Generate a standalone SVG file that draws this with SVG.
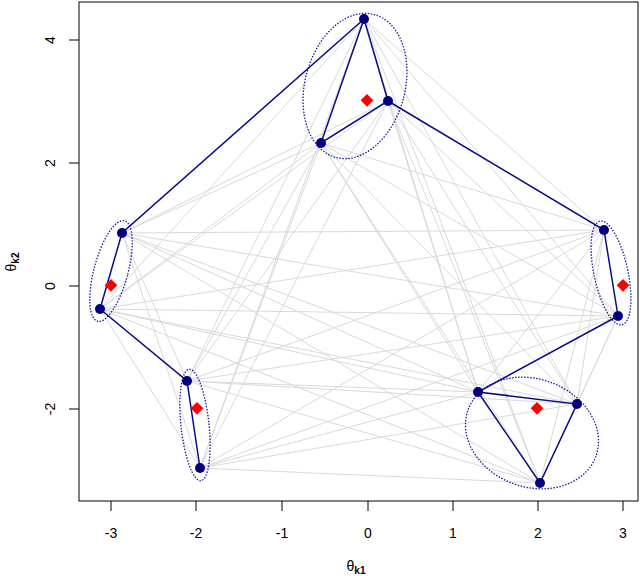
<svg xmlns="http://www.w3.org/2000/svg" width="640" height="576" viewBox="0 0 640 576">
<style>
.g{stroke:#d9d9d9;stroke-width:1;fill:none}
.b{stroke:#0a0a8c;stroke-width:1.5;fill:none}
.e{stroke:#1a1aa0;stroke-width:1.3;fill:none;stroke-dasharray:1.5,1.5}
.p{fill:#00007f}
.r{fill:#ff0000}
.ax{stroke:#000;stroke-width:1;fill:none}
text{font-family:"Liberation Sans",Arial,sans-serif;font-size:14px;fill:#000}
</style>
<rect width="640" height="576" fill="#fff"/>
<g id="gray-edges" class="g">
<path d="M364,19L122,233M364,19L100,309M364,19L187,381M364,19L200,468M364,19L478,392M364,19L577,404M364,19L540,483M364,19L604,230M364,19L618,316
M388,101L122,233M388,101L100,309M388,101L187,381M388,101L200,468M388,101L478,392M388,101L577,404M388,101L540,483M388,101L618,316
M321,143L122,233M321,143L100,309M321,143L187,381M321,143L200,468M321,143L478,392M321,143L577,404M321,143L540,483M321,143L604,230M321,143L618,316
M122,233L187,381M122,233L200,468M122,233L478,392M122,233L577,404M122,233L540,483M122,233L604,230M122,233L618,316
M100,309L200,468M100,309L478,392M100,309L577,404M100,309L540,483M100,309L604,230M100,309L618,316
M187,381L478,392M187,381L577,404M187,381L540,483M187,381L604,230M187,381L618,316
M200,468L478,392M200,468L577,404M200,468L540,483M200,468L604,230M200,468L618,316
M478,392L604,230M577,404L604,230M540,483L604,230M577,404L618,316M540,483L618,316"/>
</g>
<g id="ellipses" class="e">
<ellipse cx="355" cy="86" rx="50" ry="74" transform="rotate(15 355 86)"/>
<ellipse cx="111" cy="271" rx="17" ry="52" transform="rotate(15 111 271)"/>
<ellipse cx="195" cy="425" rx="14" ry="56" transform="rotate(-6 195 425)"/>
<ellipse cx="532" cy="433" rx="68" ry="54" transform="rotate(20 532 433)"/>
<ellipse cx="611" cy="273" rx="17" ry="53" transform="rotate(-12 611 273)"/>
</g>
<g id="blue-edges" class="b">
<path d="M364,19L321,143L388,101L364,19M364,19L122,233L100,309L187,381L200,468M388,101L604,230L618,316L478,392L577,404L540,483L478,392"/>
</g>
<g id="centroids" class="r">
<rect x="362" y="96" width="9" height="9" transform="rotate(45 367 101)" x2="0"/>
<rect x="106" y="281" width="9" height="9" transform="rotate(45 111 286)"/>
<rect x="192" y="404" width="9" height="9" transform="rotate(45 197 409)"/>
<rect x="532" y="404" width="9" height="9" transform="rotate(45 537 409)"/>
<rect x="618" y="281" width="9" height="9" transform="rotate(45 623 286)"/>
</g>
<g id="nodes" class="p">
<circle cx="364" cy="19" r="5"/><circle cx="388" cy="101" r="5"/><circle cx="321" cy="143" r="5"/>
<circle cx="122" cy="233" r="5"/><circle cx="100" cy="309" r="5"/>
<circle cx="187" cy="381" r="5"/><circle cx="200" cy="468" r="5"/>
<circle cx="478" cy="392" r="5"/><circle cx="577" cy="404" r="5"/><circle cx="540" cy="483" r="5"/>
<circle cx="604" cy="230" r="5"/><circle cx="618" cy="316" r="5"/>
</g>
<g id="axes">
<rect class="ax" x="79" y="2" width="559" height="499"/>
<path class="ax" d="M111,501v10M196,501v10M282,501v10M368,501v10M453,501v10M538,501v10M623,501v10"/>
<path class="ax" d="M79,40h-10M79,163h-10M79,286h-10M79,409h-10"/>
<g text-anchor="middle">
<text x="111" y="538">-3</text><text x="196" y="538">-2</text><text x="282" y="538">-1</text><text x="368" y="538">0</text><text x="453" y="538">1</text><text x="538" y="538">2</text><text x="623" y="538">3</text>
<text transform="translate(55,40) rotate(-90)">4</text>
<text transform="translate(55,163) rotate(-90)">2</text>
<text transform="translate(55,286) rotate(-90)">0</text>
<text transform="translate(55,409) rotate(-90)">-2</text>
<text x="356" y="571">θ<tspan font-size="10" font-weight="bold" dy="3">k1</tspan></text>
<text transform="translate(16,262) rotate(-90)">θ<tspan font-size="10" font-weight="bold" dy="3">k2</tspan></text>
</g>
</g>
</svg>
